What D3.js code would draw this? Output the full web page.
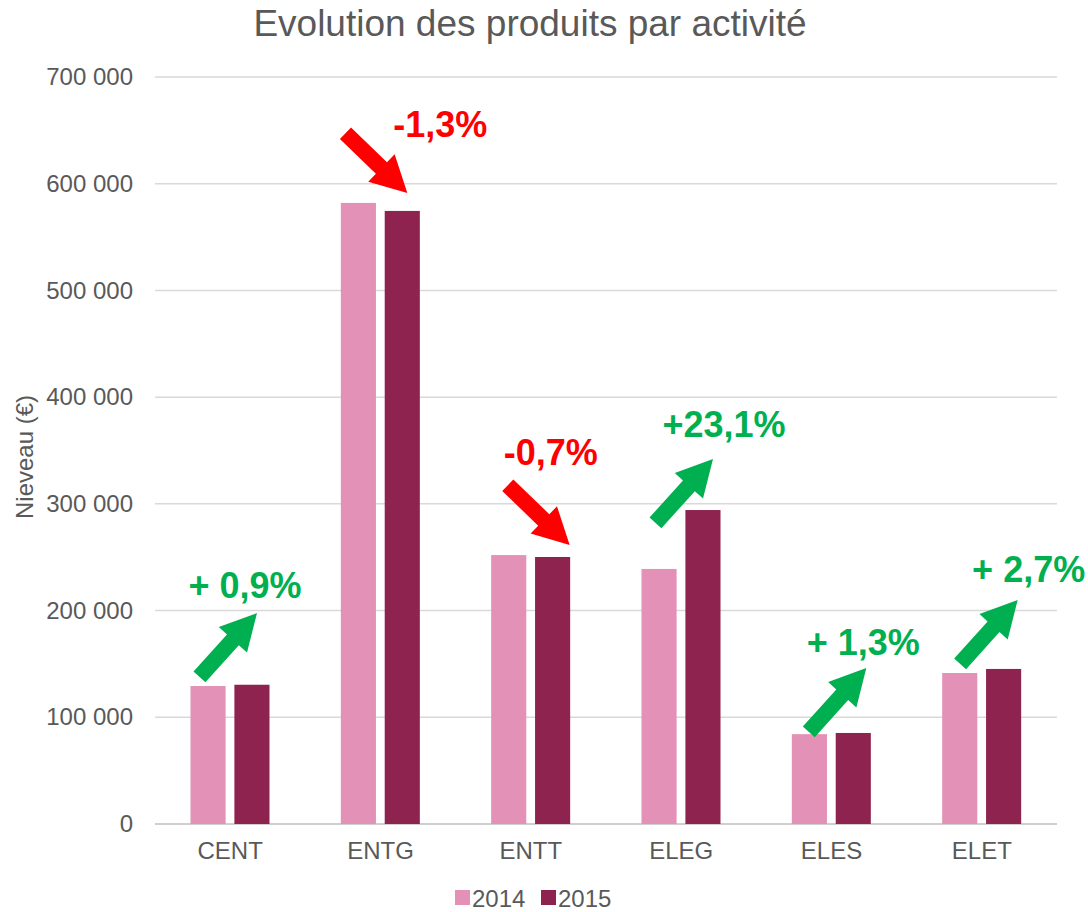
<!DOCTYPE html>
<html>
<head>
<meta charset="utf-8">
<script src="https://cdn.jsdelivr.net/npm/d3@7"></script>
<style>
  body { margin: 0; background: #fff; }
  text { font-family: 'Liberation Sans', Arial, sans-serif; }
</style>
</head>
<body>
<script>
const categories = ['CENT', 'ENTG', 'ENTT', 'ELEG', 'ELES', 'ELET']
const years = ['2014', '2015']
const values2014 = [129300, 582000, 252000, 239000, 84200, 141500]
const values2015 = [130500, 574500, 250200, 294200, 85300, 145300]
const yTicks = [0, 100000, 200000, 300000, 400000, 500000, 600000, 700000]

// evolution labels: text, direction, arrow tip level, label baseline level
const evoLabels = ['+ 0,9%', '-1,3%', '-0,7%', '+23,1%', '+ 1,3%', '+ 2,7%']
const evoUp = [true, false, false, true, true, true]
const evoTip = [197700, 591300, 261500, 342000, 146200, 209900]
const evoText = [211800, 643800, 336400, 362700, 158400, 226800]

const colors = { '2014': '#e391b7', '2015': '#8e2350' }
const width = 1088, height = 912
const margin = { left: 155, right: 31, top: 77, bottom: 88 }

const svg = d3.select('body').append('svg')
    .attr('width', width)
    .attr('height', height)

const x = d3.scaleBand().domain(categories).range([margin.left, width - margin.right])
const x1 = d3.scaleBand().domain(years).range([35.5, 114.5]).paddingInner(0.2)
const y = d3.scaleLinear().domain([0, 700000]).range([height - margin.bottom, margin.top])

const fmt = v => d3.format(',')(v).replace(/,/g, ' ')

// title
svg.append('text')
    .attr('x', 530).attr('y', 36)
    .attr('text-anchor', 'middle')
    .attr('font-size', 37)
    .attr('fill', '#595959')
    .text('Evolution des produits par activité')

// grid
svg.append('g').selectAll('line')
  .data(yTicks)
  .enter().append('line')
    .attr('x1', margin.left).attr('x2', width - margin.right)
    .attr('y1', d => y(d)).attr('y2', d => y(d))
    .attr('stroke', d => d === 0 ? '#bfbfbf' : '#d9d9d9')
    .attr('stroke-width', 1.5)

// y axis labels
const yAxis = d3.axisLeft(y).tickValues(yTicks).tickFormat(fmt).tickSize(0).tickPadding(22)
const gy = svg.append('g')
    .attr('transform', 'translate(' + margin.left + ',0)')
    .call(yAxis)
gy.select('.domain').remove()
gy.selectAll('text')
    .attr('font-size', 24)
    .attr('fill', '#595959')
    .attr('font-family', "'Liberation Sans', Arial, sans-serif")

svg.append('text')
    .attr('transform', 'translate(33,' + 457 + ') rotate(-90)')
    .attr('text-anchor', 'middle')
    .attr('font-size', 24)
    .attr('fill', '#595959')
    .text('Nieveau (€)')

// x axis labels
const xAxis = d3.axisBottom(x).tickSize(0).tickPadding(18)
const gx = svg.append('g')
    .attr('transform', 'translate(0,' + y(0) + ')')
    .call(xAxis)
gx.select('.domain').remove()
gx.selectAll('text')
    .attr('font-size', 24)
    .attr('fill', '#595959')
    .attr('font-family', "'Liberation Sans', Arial, sans-serif")

// bars
const rows = categories.map((c, i) => ({ cat: c, '2014': values2014[i], '2015': values2015[i] }))
svg.append('g').selectAll('g')
  .data(rows)
  .enter().append('g')
    .attr('transform', d => 'translate(' + x(d.cat) + ',0)')
  .selectAll('rect')
  .data(d => years.map(k => ({ key: k, value: d[k] })))
  .enter().append('rect')
    .attr('x', d => x1(d.key))
    .attr('width', x1.bandwidth())
    .attr('y', d => y(d.value))
    .attr('height', d => y(0) - y(d.value))
    .attr('fill', d => colors[d.key])

// arrows
const tipDx = [102, 102, 114, 107, 110, 111]
const textDx = [90, 135, 95, 118, 107, 122]
function arrowPath(len, shaft, headW, headL) {
  // arrow along +x, tip at origin
  const s = shaft / 2, h = headW / 2
  return 'M0,0 L' + (-headL) + ',' + (-h) + ' L' + (-headL) + ',' + (-s) +
    ' L' + (-len) + ',' + (-s) + ' L' + (-len) + ',' + s +
    ' L' + (-headL) + ',' + s + ' L' + (-headL) + ',' + h + ' Z'
}
const ann = svg.append('g')
categories.forEach((c, i) => {
  const col = evoUp[i] ? '#00b050' : '#ff0000'
  const tx = x(c) + tipDx[i], ty = y(evoTip[i])
  const ang = evoUp[i] ? -48 : 44
  ann.append('path')
      .attr('d', arrowPath(86, 16, 38, 36))
      .attr('transform', 'translate(' + tx + ',' + ty + ') rotate(' + ang + ')')
      .attr('fill', col)
  ann.append('text')
      .attr('x', x(c) + textDx[i])
      .attr('y', y(evoText[i]))
      .attr('text-anchor', 'middle')
      .attr('font-size', 36)
      .attr('font-weight', 'bold')
      .attr('fill', col)
      .text(evoLabels[i])
})

// legend
const leg = svg.append('g').attr('transform', 'translate(455,898)')
years.forEach((k, i) => {
  const g = leg.append('g').attr('transform', 'translate(' + (i * 86) + ',0)')
  g.append('rect').attr('x', 0).attr('y', -8).attr('width', 15).attr('height', 15).attr('fill', colors[k])
  g.append('text').attr('x', 17).attr('y', 8.5)
      .attr('font-size', 24).attr('fill', '#595959').text(k)
})
</script>
</body>
</html>
